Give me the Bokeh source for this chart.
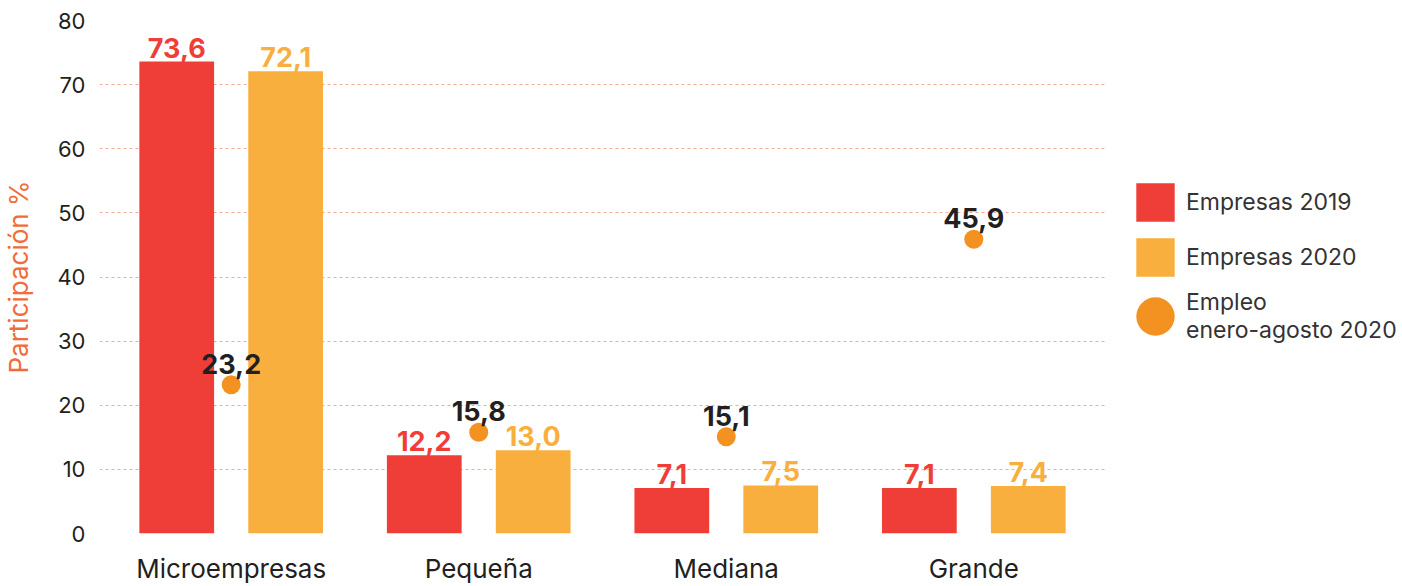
from bokeh.plotting import figure
from bokeh.models import FactorRange, Range1d, Legend, LegendItem, ColumnDataSource, FixedTicker
from bokeh.transform import dodge
from bokeh.layouts import row
from bokeh.core.properties import value
from bokeh.embed import file_html
from bokeh.resources import INLINE

categories = ["Microempresas", "Pequeña", "Mediana", "Grande"]
empresas_2019 = [73.6, 12.2, 7.1, 7.1]
empresas_2020 = [72.1, 13.0, 7.5, 7.4]
empleo_2020 = [23.2, 15.8, 15.1, 45.9]
y_ticks = [0, 10, 20, 30, 40, 50, 60, 70, 80]
series_names = ["Empresas 2019", "Empresas 2020", "Empleo\nenero-agosto 2020"]


def fmt(v):
    return f"{v:.1f}".replace(".", ",")


source = ColumnDataSource(data=dict(
    cat=categories,
    e19=empresas_2019,
    e20=empresas_2020,
    emp=empleo_2020,
    e19_lbl=[fmt(v) for v in empresas_2019],
    e20_lbl=[fmt(v) for v in empresas_2020],
    emp_lbl=[fmt(v) for v in empleo_2020],
))

FONT = "Inter"
RED = "#EF3E37"
YEL = "#F9AF3D"
ORA = "#F39121"
DARK = "#231F20"

p = figure(
    x_range=FactorRange(factors=categories, range_padding=0.032, range_padding_units="absolute"),
    y_range=Range1d(0, 80),
    width=1110, height=586,
    output_backend="svg", toolbar_location=None,
    min_border_left=97, min_border_right=5, min_border_top=20, min_border_bottom=46,
)
p.outline_line_color = None
p.background_fill_color = "white"
p.border_fill_color = "white"

p.xgrid.grid_line_color = None
p.ygrid.grid_line_color = "#F4A99A"
p.ygrid.grid_line_dash = "3 3"
p.ygrid.grid_line_width = 1
p.yaxis.ticker = FixedTicker(ticks=y_ticks)

for ax in (p.xaxis, p.yaxis):
    ax.axis_line_color = None
    ax.major_tick_line_color = None
    ax.minor_tick_line_color = None
    ax.major_label_text_font = FONT
    ax.major_label_text_color = DARK

p.yaxis.major_label_text_font_size = "22px"
p.yaxis.major_label_standoff = 8
p.yaxis.axis_label = "Participación %"
p.yaxis.axis_label_text_font = FONT
p.yaxis.axis_label_text_font_style = "normal"
p.yaxis.axis_label_text_font_size = "26px"
p.yaxis.axis_label_text_color = "#F26B3A"
p.yaxis.axis_label_standoff = 20

p.xaxis.major_label_text_font_size = "26px"
p.xaxis.major_label_standoff = 13

bar_kw = dict(width=0.302, source=source, line_color=None)
r19 = p.vbar(x=dodge("cat", -0.22, range=p.x_range), top="e19", fill_color=RED, **bar_kw)
r20 = p.vbar(x=dodge("cat", 0.22, range=p.x_range), top="e20", fill_color=YEL, **bar_kw)
dot_kw = dict(width=19, height=19, width_units="screen", height_units="screen",
              source=source, fill_color=ORA, line_color=None)
remp = p.ellipse(x="cat", y="emp", **dot_kw)

lbl_kw = dict(source=source, text_align="center", text_baseline="bottom",
              text_font=value(FONT), text_font_style="bold", text_font_size="27px")
p.text(x=dodge("cat", -0.22, range=p.x_range), y="e19", text="e19_lbl", y_offset=-4,
       text_color=RED, **lbl_kw)
p.text(x=dodge("cat", 0.22, range=p.x_range), y="e20", text="e20_lbl", y_offset=-4,
       text_color=YEL, **lbl_kw)
p.text(x="cat", y="emp", text="emp_lbl", y_offset=-11, text_color=DARK, **lbl_kw)

# legend panel: a separate figure to the right; its proxy glyphs map outside its
# ranges (unknown factor on x, out-of-range y), so only the legend shows
q = figure(
    x_range=FactorRange(factors=["leyenda"]), y_range=Range1d(200, 210),
    width=292, height=586, output_backend="svg", toolbar_location=None,
    x_axis_location=None, y_axis_location=None,
    min_border_left=0, min_border_right=0, min_border_top=0, min_border_bottom=0,
)
q.outline_line_color = None
q.xgrid.grid_line_color = None
q.ygrid.grid_line_color = None
q.background_fill_color = "white"
q.border_fill_color = "white"
l19 = q.vbar(x="cat", top="e19", bottom="e19", fill_color=RED, **bar_kw)
l20 = q.vbar(x="cat", top="e20", bottom="e20", fill_color=YEL, **bar_kw)
lemp = q.ellipse(x="cat", y="emp", **dot_kw)

legend = Legend(
    items=[LegendItem(label=series_names[0], renderers=[l19]),
           LegendItem(label=series_names[1], renderers=[l20]),
           LegendItem(label=series_names[2], renderers=[lemp])],
    location=(21, 189),
    glyph_width=48, glyph_height=48, spacing=7, padding=0, margin=0,
    border_line_color=None, background_fill_alpha=0,
    label_text_font=FONT, label_text_font_size="23px", label_text_color="#333333",
    label_text_line_height=1.2, label_standoff=7,
)
q.add_layout(legend)

layout = row(p, q)
open("out.html", "w").write(file_html(layout, INLINE))
